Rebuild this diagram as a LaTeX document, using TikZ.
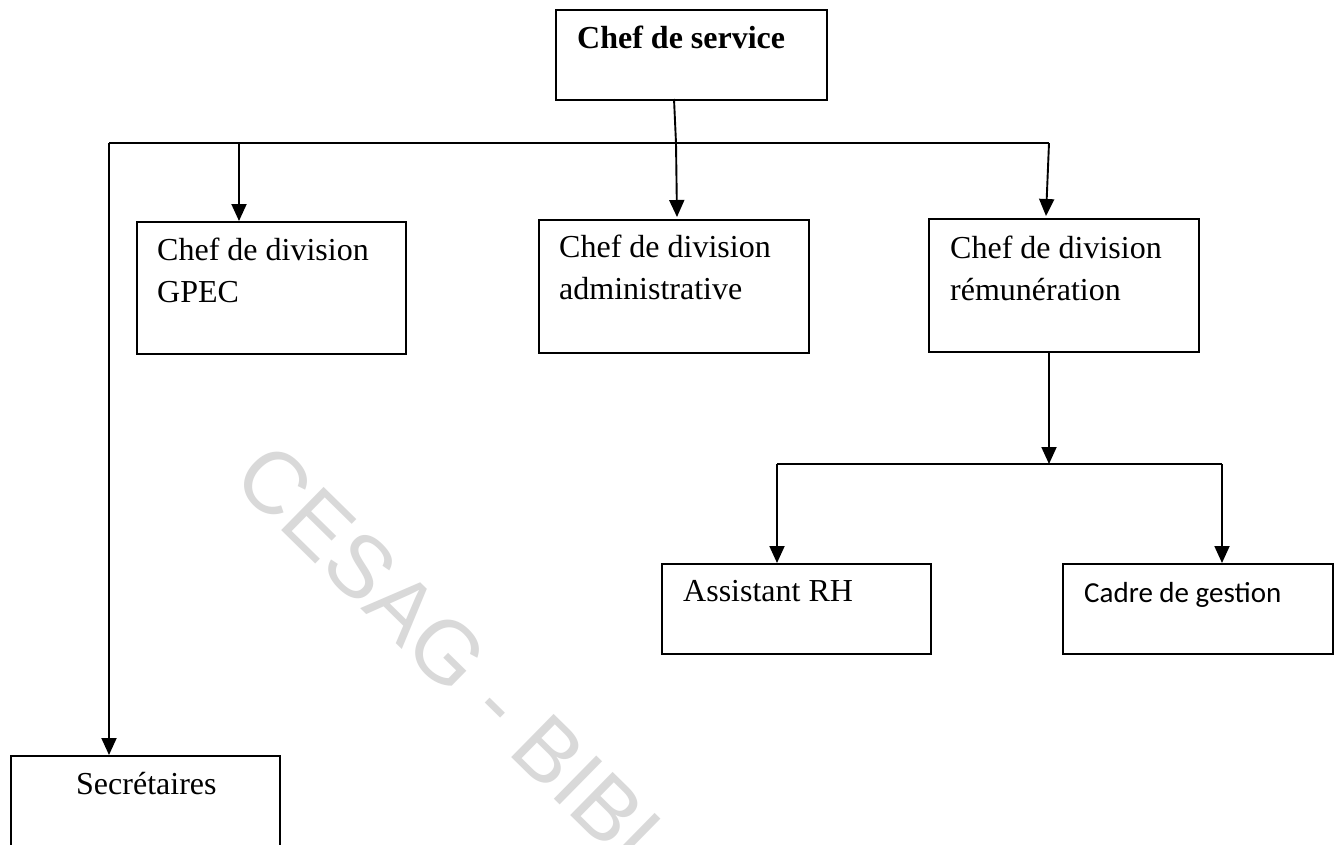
\documentclass[tikz,border=0pt]{standalone}
\usepackage{fontspec}
\setmainfont{Liberation Serif}
\newfontfamily\calibfont{Carlito}
\newfontfamily\wmfont{Liberation Sans}
\usetikzlibrary{arrows.meta,calc}
\begin{document}
\begin{tikzpicture}[x=1pt,y=-1pt,
  box/.style={draw,line width=1.9pt,inner sep=0pt,anchor=north west},
  txt/.style={inner sep=0pt,anchor=base west,align=left,font={\fontsize{32}{42}\selectfont}},
  ln/.style={line width=1.9pt},
  arr/.style={line width=1.9pt,-{Triangle[width=15pt,length=17pt]}},
  wm/.style={inner sep=0pt,text=gray!30,font={\wmfont\fontsize{88}{96}\selectfont}}]
\useasboundingbox (0,0) rectangle (1341,844);
\clip (0,0) rectangle (1341,844);
\fill[white] (0,0) rectangle (1341,844);
% watermark
\node[wm,rotate=-44.5] (wmark) at (458,662) {CESAG - BIBL};
% boxes
\node[box,minimum width=271pt,minimum height=90pt] (svc) at (555,9) {};
\node[box,minimum width=269pt,minimum height=132pt] (gpec) at (136,221) {};
\node[box,minimum width=270pt,minimum height=133pt] (adm) at (538,219) {};
\node[box,minimum width=270pt,minimum height=133pt] (rem) at (928,218) {};
\node[box,minimum width=269pt,minimum height=90pt] (ast) at (661,563) {};
\node[box,minimum width=270pt,minimum height=90pt] (cad) at (1062,563) {};
\node[box,minimum width=269pt,minimum height=150pt] (sec) at (10,755) {};
% texts (base = baseline of the last line)
\node[txt] (svct) at (577,48) {\bfseries Chef de service};
\node[txt] (gpect) at (157,302) {Chef de division\\GPEC};
\node[txt] (admt) at (559,299) {Chef de division\\administrative};
\node[txt] (remt) at (950,300) {Chef de division\\rémunération};
\node[txt] (astt) at (683,601) {Assistant RH};
\node[txt,font={\calibfont\fontsize{29}{35}\selectfont}] (cadt) at (1084,602) {Cadre de gestion};
\node[txt] (sect) at (76,794) {Secrétaires};
% connector points
\coordinate (s0) at (674,99);
\coordinate (s1) at (676,143);
\coordinate (bl) at (109,143);
\coordinate (bg) at (239,143);
\coordinate (br) at (1049,143);
\coordinate (r0) at (1049,351);
\coordinate (r1) at (1049,464);
\coordinate (cl) at (777,464);
\coordinate (cr) at (1222,464);
% connectors
\draw[ln] (s0) -- (s1);
\draw[ln] (bl) -- (br);
\draw[arr] (s1) -- (677,217);
\draw[arr] (bg) -- (bg |- gpec.north);
\draw[arr] (br) -- (1046,216);
\draw[arr] (bl) -- (bl |- sec.north);
\draw[arr] (r0) -- (r1);
\draw[ln] (cl) -- (cr);
\draw[arr] (cl) -- (cl |- ast.north);
\draw[arr] (cr) -- (cr |- cad.north);
\end{tikzpicture}
\end{document}
